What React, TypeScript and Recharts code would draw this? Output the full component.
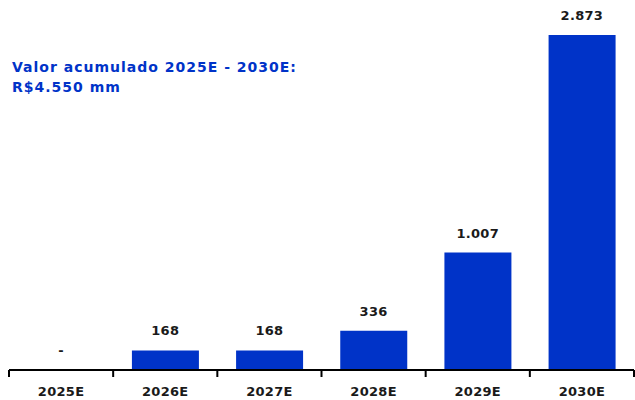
import { ComposedChart, Bar, Line, XAxis, YAxis, LabelList } from "recharts";

const years = ["2025E", "2026E", "2027E", "2028E", "2029E", "2030E"];
const values = [0, 168, 168, 336, 1007, 2873];
const valueLabels = ["-", "168", "168", "336", "1.007", "2.873"];
const titleLines = ["Valor acumulado 2025E - 2030E:", "R$4.550 mm"];

const BLUE = "#0033c8";
const INK = "#1a1a1a";
const FONT = "'DejaVu Sans', Verdana, sans-serif";

const W = 635;
const H = 400;
const M = { top: 35, right: 1, bottom: 0, left: 9 };
const BAND = (W - M.left - M.right) / years.length;

const data = years.map((year, i) => ({
  year,
  value: values[i],
  label: valueLabels[i],
}));

// eslint-disable-next-line @typescript-eslint/no-explicit-any
function YearTick({ x, y, payload, index }: any) {
  const left = x - BAND / 2;
  return (
    <g>
      <line x1={left} y1={y - 8} x2={left} y2={y - 1} stroke="#000" strokeWidth={2} />
      {index === years.length - 1 && (
        <line x1={left + BAND} y1={y - 8} x2={left + BAND} y2={y - 1} stroke="#000" strokeWidth={2} />
      )}
      <text
        x={x}
        y={y + 18}
        textAnchor="middle"
        fill={INK}
        fontSize={13}
        fontWeight="bold"
        fontFamily={FONT}
        letterSpacing={0.3}
      >
        {payload.value}
      </text>
    </g>
  );
}

export default function App() {
  return (
    <div style={{ position: "absolute", left: 0, top: 0, width: W, height: H, background: "#fff" }}>
      <ComposedChart width={W} height={H} data={data} margin={M} barCategoryGap="18%">
        <XAxis
          dataKey="year"
          height={30}
          axisLine={{ stroke: "#000", strokeWidth: 2 }}
          tickLine={false}
          tick={<YearTick />}
          interval={0}
        />
        <YAxis hide domain={[0, 2873]} />
        <Bar dataKey="value" fill={BLUE} isAnimationActive={false} />
        {/* invisible line carries the value labels so the zero year gets its "-" */}
        <Line
          dataKey="value"
          stroke="none"
          dot={false}
          activeDot={false}
          isAnimationActive={false}
        >
          <LabelList
            dataKey="label"
            position="top"
            offset={15}
            fill={INK}
            fontSize={13}
            fontWeight="bold"
            fontFamily={FONT}
            letterSpacing={0.3}
          />
        </Line>
      </ComposedChart>
      <div
        style={{
          position: "absolute",
          left: 12,
          top: 57,
          color: BLUE,
          fontFamily: FONT,
          fontWeight: "bold",
          fontSize: 14,
          lineHeight: "20px",
          letterSpacing: 1,
        }}
      >
        {titleLines.map((t) => (
          <div key={t}>{t}</div>
        ))}
      </div>
    </div>
  );
}
